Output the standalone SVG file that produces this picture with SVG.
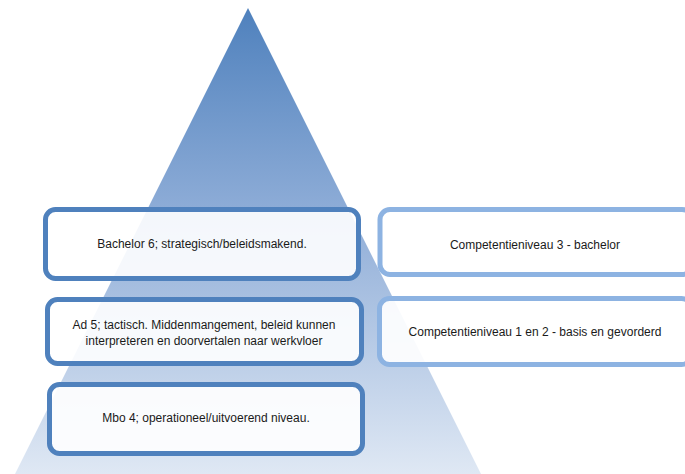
<svg xmlns="http://www.w3.org/2000/svg" width="685" height="474" viewBox="0 0 685 474">
<defs>
<linearGradient id="tri" x1="0" y1="8" x2="0" y2="474" gradientUnits="userSpaceOnUse">
<stop offset="0" stop-color="#4f81bd"/>
<stop offset="0.45" stop-color="#90aed8"/>
<stop offset="1" stop-color="#dfe8f4"/>
</linearGradient>
</defs>
<style>
.lb{fill:#ffffff;fill-opacity:0.9;stroke:#4f81bd;stroke-width:5}
.rb{fill:#ffffff;fill-opacity:0.92;stroke:#8db3e2;stroke-width:5}
text{font-family:"Liberation Sans",Arial,sans-serif;font-size:12px;fill:#1a1a1a;text-anchor:middle}
</style>
<rect width="685" height="474" fill="#ffffff"/>
<g id="pyramid">
<polygon points="248,8 15,474 481,474" fill="url(#tri)"/>
</g>
<g id="connectors"/>
<g id="bachelor">
<rect class="lb" x="45.5" y="209.5" width="313" height="69" rx="10"/>
<text x="202" y="248">Bachelor 6; strategisch/beleidsmakend.</text>
</g>
<g id="ad">
<rect class="lb" x="47.5" y="299.5" width="314" height="64" rx="10"/>
<text x="204" y="329">Ad 5; tactisch. Middenmangement, beleid kunnen</text>
<text x="204" y="345">interpreteren en doorvertalen naar werkvloer</text>
</g>
<g id="mbo">
<rect class="lb" x="49.5" y="384.5" width="313" height="69" rx="10"/>
<text x="206" y="422">Mbo 4; operationeel/uitvoerend niveau.</text>
</g>
<g id="competentie3">
<rect class="rb" x="380" y="209.5" width="312" height="65" rx="10"/>
<text x="535" y="249">Competentieniveau 3 - bachelor</text>
</g>
<g id="competentie12">
<rect class="rb" x="379.5" y="298.5" width="312" height="66" rx="10"/>
<text x="535" y="336">Competentieniveau 1 en 2 - basis en gevorderd</text>
</g>
</svg>
